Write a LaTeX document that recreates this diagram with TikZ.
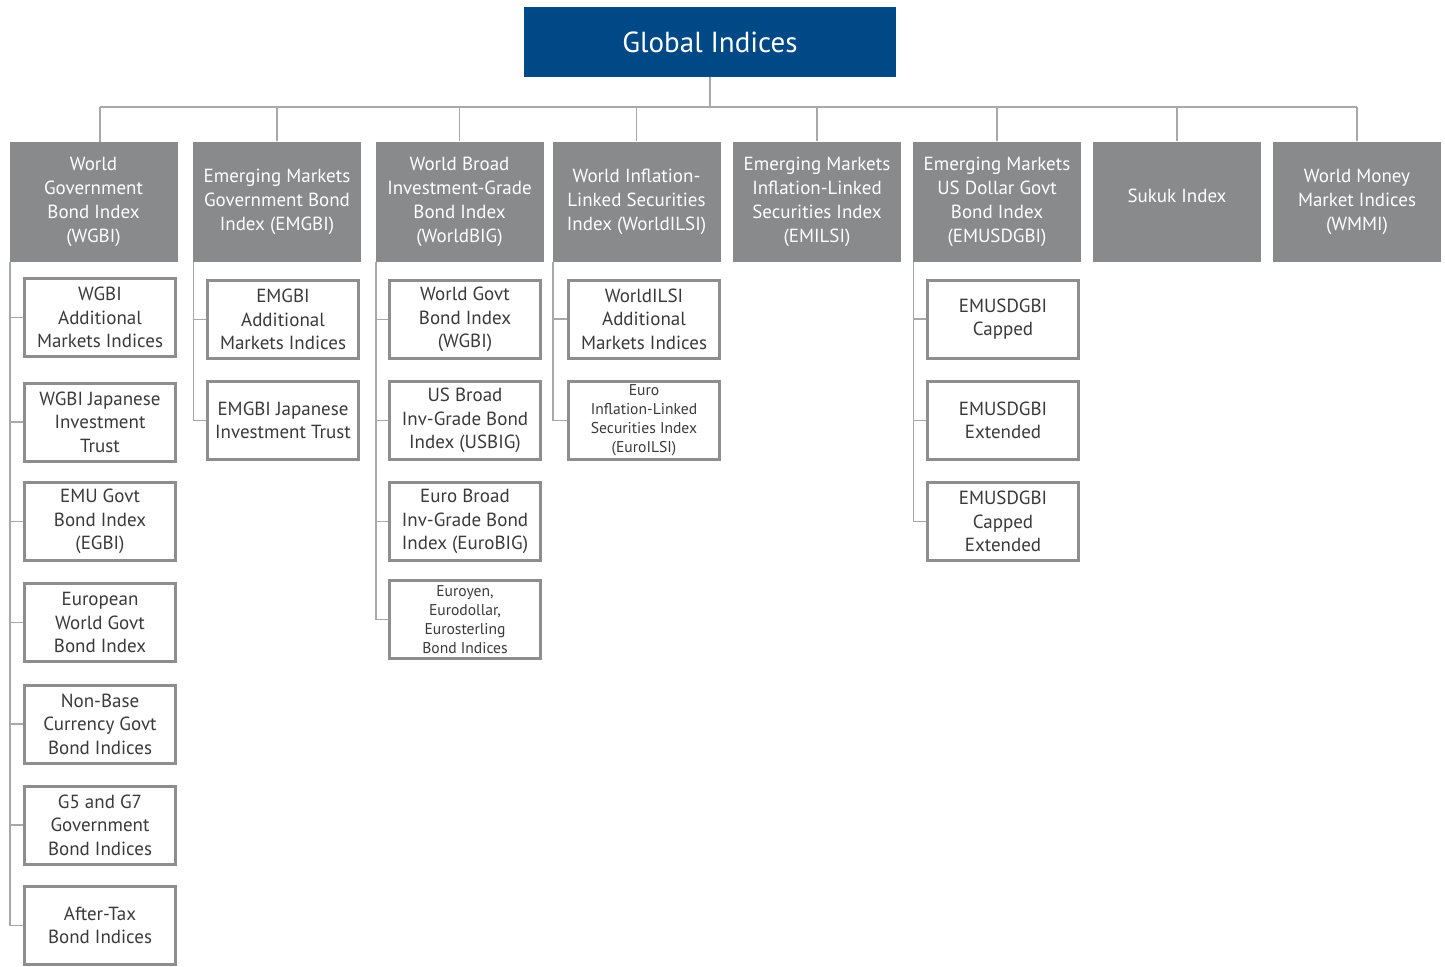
\documentclass[tikz,border=0pt]{standalone}
\usepackage{fontspec}
\setmainfont{PT Sans}
\usetikzlibrary{positioning}
\definecolor{gblue}{HTML}{004987}
\definecolor{ggray}{HTML}{898A8C}
\definecolor{gline}{HTML}{8E8E8E}
\definecolor{glink}{HTML}{A8A8A8}
\definecolor{gtext}{HTML}{3A3A3A}
\tikzset{
  topbox/.style={fill=gblue, text=white, font=\fontsize{14.5}{17}\selectfont, minimum width=186pt, minimum height=35pt, inner sep=0pt},
  group/.style={fill=ggray, text=white, font=\fontsize{9.5}{12}\selectfont, align=center, minimum width=84pt, minimum height=60pt, inner sep=0pt},
  sub/.style={draw=gline, line width=1.5pt, fill=white, text=gtext, font=\fontsize{9.5}{11.8}\selectfont, align=center, minimum width=75.5pt, minimum height=39pt, inner sep=0pt},
  subsmall/.style={sub, font=\fontsize{7.8}{9.5}\selectfont},
  link/.style={draw=glink, line width=0.75pt}
}
\begin{document}
\begin{tikzpicture}[x=0.5pt,y=-0.5pt]
\useasboundingbox (0,0) rectangle (1445,966);

\node[topbox] (top) at (710,42) {Global Indices};

\node[group] (c1) at (93.5,202) {World\\Government\\Bond Index\\(WGBI)};
\node[group] (c2) at (277,201.5) {Emerging Markets\\Government Bond\\Index (EMGBI)};
\node[group] (c3) at (459.5,201.5) {World Broad\\Investment-Grade\\Bond Index\\(WorldBIG)};
\node[group] (c4) at (636.5,201.5) {World Inflation-\\Linked Securities\\Index (WorldILSI)};
\node[group] (c5) at (817,201.5) {Emerging Markets\\Inflation-Linked\\Securities Index\\(EMILSI)};
\node[group] (c6) at (997,201.5) {Emerging Markets\\US Dollar Govt\\Bond Index\\(EMUSDGBI)};
\node[group, text depth=6pt] (c7) at (1177,201.5) {Sukuk Index};
\node[group] (c8) at (1357,201.5) {World Money\\Market Indices\\(WMMI)};

\node[sub] (k11) at (100,317.5) {WGBI\\Additional\\Markets Indices};
\node[sub] (k12) at (100,422) {WGBI Japanese\\Investment\\Trust};
\node[sub] (k13) at (100,521.5) {EMU Govt\\Bond Index\\(EGBI)};
\node[sub] (k14) at (100,622.5) {European\\World Govt\\Bond Index};
\node[sub] (k15) at (100,724) {Non-Base\\Currency Govt\\Bond Indices};
\node[sub] (k16) at (100,825) {G5 and G7\\Government\\Bond Indices};
\node[sub] (k17) at (100,925.5) {After-Tax\\Bond Indices};

\node[sub] (k21) at (283,319.5) {EMGBI\\Additional\\Markets Indices};
\node[sub] (k22) at (283,420.5) {EMGBI Japanese\\Investment Trust};

\node[sub] (k31) at (465,319.5) {World Govt\\Bond Index\\(WGBI)};
\node[sub] (k32) at (465,420.5) {US Broad\\Inv-Grade Bond\\Index (USBIG)};
\node[sub] (k33) at (465,521.5) {Euro Broad\\Inv-Grade Bond\\Index (EuroBIG)};
\node[subsmall] (k34) at (465,619.5) {Euroyen,\\Eurodollar,\\Eurosterling\\Bond Indices};

\node[sub] (k41) at (644,319) {WorldILSI\\Additional\\Markets Indices};
\node[subsmall] (k42) at (644,420.5) {Euro\\Inflation-Linked\\Securities Index\\(EuroILSI)};

\node[sub] (k61) at (1003,319) {EMUSDGBI\\Capped};
\node[sub] (k62) at (1003,420.5) {EMUSDGBI\\Extended};
\node[sub] (k63) at (1003,521.5) {EMUSDGBI\\Capped\\Extended};

% top level bus
\coordinate (bus) at (0,107);
\coordinate (d1) at ([xshift=3.25pt]c1.north);
\draw[link] (top.south) -- (top.south |- bus);
\draw[link] (d1 |- bus) -- (c8.north |- bus);
\draw[link] (d1) -- (d1 |- bus);
\foreach \c in {c2,c3,c4,c5,c6,c7,c8}
  \draw[link] (\c.north) -- (\c.north |- bus);

% sub trees
\coordinate (t1) at ([xshift=0.5pt]c1.south west);
\draw[link] (t1) |- (k17.west);
\foreach \k in {k11,k12,k13,k14,k15,k16}
  \draw[link] (\k.west) -- (\k.west -| t1);

\coordinate (t2) at ([xshift=0.5pt]c2.south west);
\draw[link] (t2) |- (k22.west);
\draw[link] (k21.west) -- (k21.west -| t2);

\coordinate (t3) at ([xshift=0.5pt]c3.south west);
\draw[link] (t3) |- (k34.west);
\foreach \k in {k31,k32,k33}
  \draw[link] (\k.west) -- (\k.west -| t3);

\coordinate (t4) at ([xshift=0.5pt]c4.south west);
\draw[link] (t4) |- (k42.west);
\draw[link] (k41.west) -- (k41.west -| t4);

\coordinate (t6) at ([xshift=0.5pt]c6.south west);
\draw[link] (t6) |- (k63.west);
\foreach \k in {k61,k62}
  \draw[link] (\k.west) -- (\k.west -| t6);

\end{tikzpicture}
\end{document}
